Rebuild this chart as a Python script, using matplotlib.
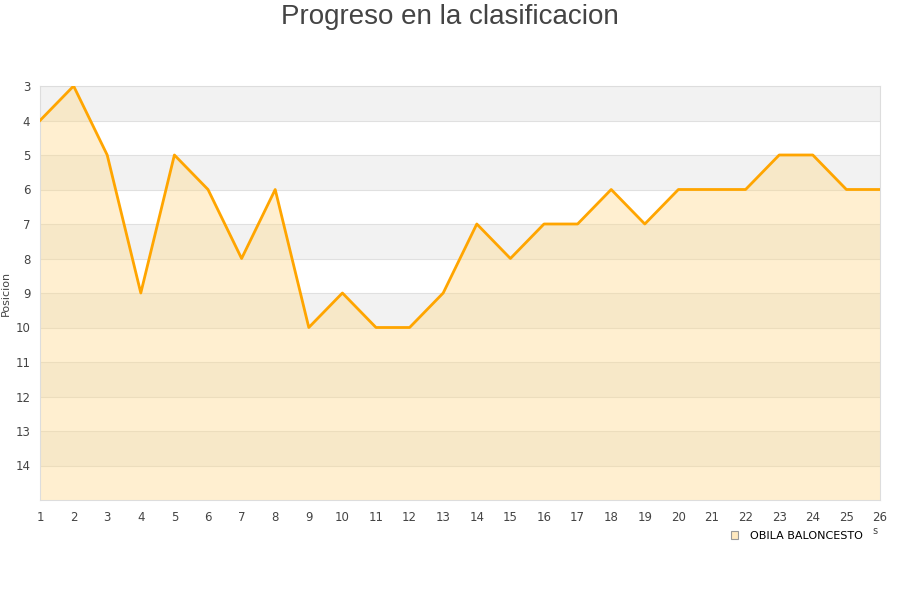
import matplotlib
matplotlib.use("Agg")
import matplotlib.pyplot as plt
from matplotlib.patches import Patch

# ---------- Data ----------
jornadas = list(range(1, 27))
posiciones = [4, 3, 5, 9, 5, 6, 8, 6, 10, 9, 10, 10, 9, 7, 8, 7, 7, 6, 7, 6, 6, 6, 5, 5, 6, 6]
equipo = "OBILA BALONCESTO"
y_ticks = list(range(3, 15))

# ---------- Figure ----------
fig = plt.figure(figsize=(9, 6), dpi=100)
ax = fig.add_axes([40 / 900, 1 - 500 / 600, 840 / 900, 414 / 600])

# alternating bands
for y0 in range(3, 15, 2):
    ax.axhspan(y0, y0 + 1, color="#f2f2f2", zorder=0, lw=0)
for y in range(4, 15):
    ax.axhline(y, color="#e0e0e0", lw=0.8, zorder=1)

ax.fill_between(jornadas, posiciones, 15, color="#ffd98a", alpha=0.4, lw=0, zorder=2)
ax.plot(jornadas, posiciones, color="#ffa500", lw=2.0, zorder=3)

ax.set_xlim(1, 26)
ax.set_ylim(15, 3)
ax.set_xticks(jornadas)
ax.set_yticks(y_ticks)
ax.tick_params(length=0, labelsize=8.5, colors="#444444", pad=8)
ax.tick_params(axis="y", pad=7)
for s in ["left", "bottom", "right", "top"]:
    ax.spines[s].set_color("#dddddd")

ax.set_ylabel("Posicion", fontsize=8, color="#444444")
ax.yaxis.set_label_coords(-29 / 840, 0.5)

fig.suptitle("Progreso en la clasificacion", fontsize=20, color="#444444",
             y=0.993, fontfamily="Liberation Sans")

handle = Patch(facecolor="#ffe9bf", edgecolor="#999999", lw=0.8)
fig.legend([handle], [equipo], loc="center", bbox_to_anchor=(0.885, 0.107),
           frameon=False, fontsize=8, handlelength=0.7, handleheight=0.7,
           handletextpad=1.0)
fig.text(875 / 900, 1 - 531 / 600, "s", fontsize=7, color="#444444", ha="center", va="center")

fig.savefig("out.png", dpi=100)
